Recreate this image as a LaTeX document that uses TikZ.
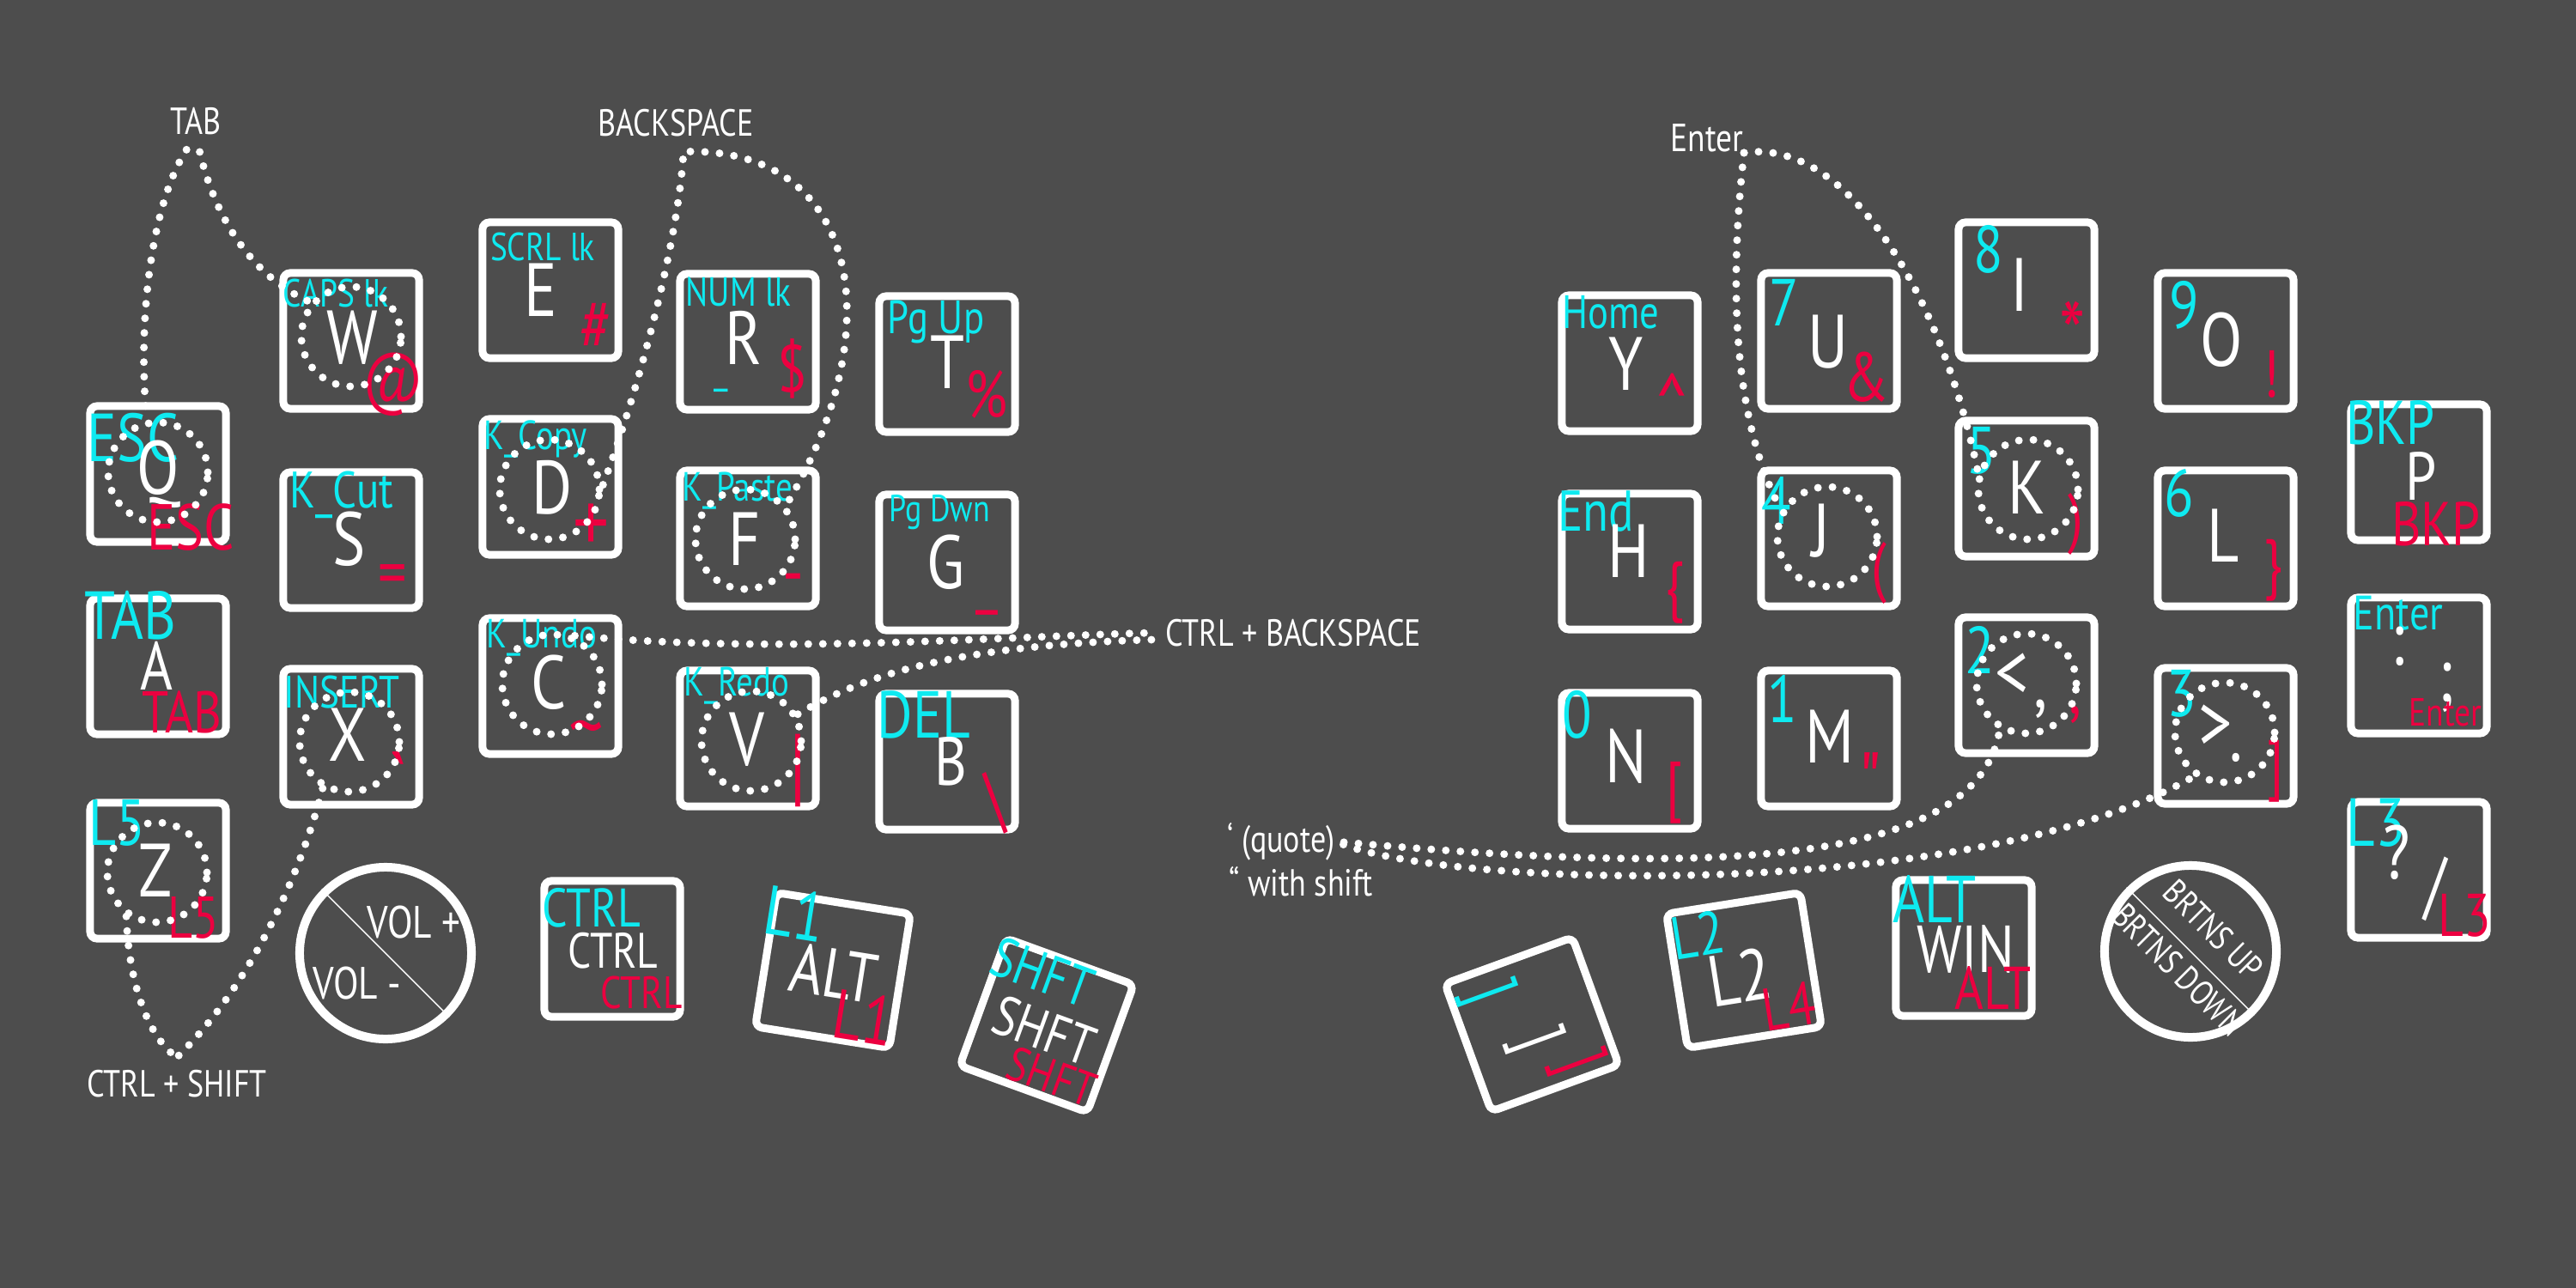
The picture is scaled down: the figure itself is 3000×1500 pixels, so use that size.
\documentclass[tikz,border=0pt]{standalone}
\usepackage{fontspec}
\setmainfont{PT Sans}[FakeStretch=0.82]
\usetikzlibrary{calc}
\definecolor{board}{RGB}{77,77,77}
\definecolor{laycyan}{RGB}{14,234,240}
\definecolor{shfred}{RGB}{236,0,64}

\begin{document}
\begin{tikzpicture}[x=0.01cm, y=-0.01cm,
keycap/.style={draw=white, line width=0.09cm, rounded corners=0.08cm, minimum size=1.58cm, inner sep=0pt},
knob/.style={circle, draw=white, line width=0.1cm, minimum size=2cm, inner sep=0pt},
dotline/.style={white, line width=0.09cm, line cap=round, dash pattern=on 0pt off 0.17cm},
ring/.style={circle, draw=white, dotline, minimum size=1.16cm, inner sep=0pt},
glyph/.style={text=white, inner sep=0pt, font=\fontsize{#1}{#1}\selectfont},
glyph/.default=25,
cyanlbl/.style={text=laycyan, inner sep=0pt, font=\fontsize{#1}{#1}\selectfont},
redlbl/.style={text=shfred, inner sep=0pt, font=\fontsize{#1}{#1}\selectfont},
note/.style={text=white, inner sep=0pt, font=\fontsize{#1}{#1}\selectfont}]

\fill[board] (0,0) rectangle (3000,1500);
\useasboundingbox (0,0) rectangle (3000,1500);

% left hand
\node [keycap] (q) at (184,552) {};
\node [cyanlbl=22.5] (q-top) at (155,510) {ESC};
\node [glyph] (q-char) at (184,552) {Q};
\node [redlbl=21.5] (q-bot) at (222,614) {ESC};

\node [keycap] (a) at (184,776) {};
\node [cyanlbl=22.5] (a-top) at (152,717) {TAB};
\node [glyph=22.5] (a-char) at (182,775) {A};
\node [redlbl=19.5] (a-bot) at (212,829) {TAB};

\node [keycap] (z) at (184,1014) {};
\node [cyanlbl=21.5] (z-top) at (136,958) {L5};
\node [glyph] (z-char) at (181,1014) {Z};
\node [redlbl=19.5] (z-bot) at (225,1069) {L5};

\node [keycap] (w) at (409,397) {};
\node [cyanlbl=13] (w-top) at (391,341) {CAPS lk};
\node [glyph] (w-char) at (410,393) {W};
\node [redlbl=23] (w-bot) at (458,448) {@};

\node [keycap] (s) at (409,629) {};
\node [cyanlbl=17] (s-top) at (398,576) {K\_Cut};
\node [glyph] (s-char) at (407,628) {S};
\node [redlbl=23] (s-bot) at (457,676) {=};

\node [keycap] (x) at (409,858) {};
\node [cyanlbl=15] (x-top) at (398,806) {INSERT};
\node [glyph] (x-char) at (405,856) {X};
\node [redlbl=28] (x-bot) at (466,911) {\textasciigrave};

\node [keycap] (e) at (641,338) {};
\node [cyanlbl=13] (e-top) at (632,287) {SCRL lk};
\node [glyph] (e-char) at (630,338) {E};
\node [redlbl=24] (e-bot) at (694,380) {\#};

\node [keycap] (d) at (641,567) {};
\node [cyanlbl=13.5] (d-top) at (624,511) {K\_Copy};
\node [glyph] (d-char) at (643,568) {D};
\node [redlbl=29] (d-bot) at (689,615) {+};

\node [keycap] (c) at (641,799) {};
\node [cyanlbl=13.5] (c-top) at (631,743) {K\_Undo};
\node [glyph] (c-char) at (639,795) {C};
\node [redlbl=28] (c-bot) at (683,860) {\textasciitilde};

\node [keycap] (r) at (871,398) {};
\node [cyanlbl=13.5] (r-top) at (860,340) {NUM lk};
\node [glyph] (r-char) at (866,393) {R};
\node [cyanlbl=14] (r-mid) at (840,452) {\_};
\node [redlbl=22] (r-bot) at (923,429) {\$};

\node [keycap] (f) at (871,627) {};
\node [cyanlbl=13.5] (f-top) at (859,572) {K\_Paste};
\node [glyph] (f-char) at (867,628) {F};
\node [redlbl=24] (f-bot) at (924,682) {-};

\node [keycap] (v) at (871,860) {};
\node [cyanlbl=13.5] (v-top) at (858,799) {K\_Redo};
\node [glyph] (v-char) at (870,861) {V};
\node [redlbl=29] (v-bot) at (929,897) {\textbar};

\node [keycap] (t) at (1103,424) {};
\node [cyanlbl=15.5] (t-top) at (1090,375) {Pg Up};
\node [glyph] (t-char) at (1103,422) {T};
\node [redlbl=22] (t-bot) at (1149,459) {\%};

\node [keycap] (g) at (1103,655) {};
\node [cyanlbl=12.5] (g-top) at (1094,597) {Pg Dwn};
\node [glyph] (g-char) at (1102,655) {G};
\node [redlbl=22] (g-bot) at (1149,708) {\_};

\node [keycap] (b) at (1103,887) {};
\node [cyanlbl=22] (b-top) at (1076,832) {DEL};
\node [glyph=22.5] (b-char) at (1107,887) {B};
\node [redlbl=24] (b-bot) at (1160,935) {\textbackslash};

% left thumb
\node [knob] (vol) at (449,1110) {};
\draw [white, line width=0.4pt] (vol.135) -- (vol.-45);
\node [note=15] (vol-up) at (482,1074) {VOL +};
\node [note=15] (vol-dn) at (416,1145) {VOL -};

\node [keycap] (ctrl) at (713,1105) {};
\node [cyanlbl=18] (ctrl-top) at (689,1057) {CTRL};
\node [glyph=16.5] (ctrl-char) at (714,1107) {CTRL};
\node [redlbl=15] (ctrl-bot) at (747,1156) {CTRL};

\node [keycap, rotate=-9] (alt) at (970,1130) {};
\node [cyanlbl=23, rotate=-9] (alt-top) at (926,1064) {L1};
\node [glyph=23, rotate=-9] (alt-char) at (971,1133) {ALT};
\node [redlbl=23, rotate=-9] (alt-bot) at (1006,1185) {L1};

\node [keycap, rotate=-20] (shft) at (1219,1194) {};
\node [cyanlbl=18.5, rotate=-20] (shft-top) at (1214,1132) {SHFT};
\node [glyph=18.5, rotate=-20] (shft-char) at (1216,1200) {SHFT};
\node [redlbl=16, rotate=-20] (shft-bot) at (1225,1254) {SHFT};

% right hand
\node [keycap] (y) at (1898,423) {};
\node [cyanlbl=15.5] (y-top) at (1876,364) {Home};
\node [glyph] (y-char) at (1894,424) {Y};
\node [redlbl=27] (y-bot) at (1948,469) {\textasciicircum};

\node [keycap] (h) at (1898,654) {};
\node [cyanlbl=19] (h-top) at (1859,596) {End};
\node [glyph] (h-char) at (1897,642) {H};
\node [redlbl=22] (h-bot) at (1950,690) {\{};

\node [keycap] (n) at (1898,886) {};
\node [cyanlbl=22] (n-top) at (1837,832) {0};
\node [glyph] (n-char) at (1894,881) {N};
\node [redlbl=22] (n-bot) at (1950,923) {[};

\node [keycap] (u) at (2130,397) {};
\node [cyanlbl=22] (u-top) at (2078,352) {7};
\node [glyph] (u-char) at (2129,398) {U};
\node [redlbl=23] (u-bot) at (2173,439) {\&};

\node [keycap] (j) at (2130,627) {};
\node [cyanlbl=22] (j-top) at (2069,583) {4};
\node [glyph] (j-char) at (2121,618) {J};
\node [redlbl=22] (j-bot) at (2188,667) {(};

\node [keycap] (m) at (2130,860) {};
\node [cyanlbl=22] (m-top) at (2076,814) {1};
\node [glyph] (m-char) at (2131,858) {M};
\node [redlbl=28] (m-bot) at (2181,911) {\textquotedbl};

\node [keycap] (i) at (2360,338) {};
\node [cyanlbl=22] (i-top) at (2316,290) {8};
\node [glyph] (i-char) at (2352,332) {I};
\node [redlbl=30] (i-bot) at (2414,389) {*};

\node [keycap] (k) at (2360,569) {};
\node [cyanlbl=22] (k-top) at (2308,525) {5};
\node [glyph] (k-char) at (2360,568) {K};
\node [redlbl=22] (k-bot) at (2417,610) {)};

\node [keycap] (lt) at (2360,798) {};
\node [cyanlbl=22] (lt-top) at (2306,757) {2};
\node [glyph=27] (lt-char) at (2343,788) {<};
\node [glyph] (lt-mid) at (2377,826) {,};
\node [redlbl=23] (lt-bot) at (2417,833) {,};

\node [keycap] (o) at (2592,397) {};
\node [cyanlbl=22] (o-top) at (2544,355) {9};
\node [glyph] (o-char) at (2587,396) {O};
\node [redlbl=22] (o-bot) at (2645,436) {!};

\node [keycap] (l) at (2592,627) {};
\node [cyanlbl=22] (l-top) at (2538,574) {6};
\node [glyph] (l-char) at (2589,624) {L};
\node [redlbl=22] (l-bot) at (2647,664) {\}};

\node [keycap] (gt) at (2592,857) {};
\node [cyanlbl=22] (gt-top) at (2541,808) {3};
\node [glyph=27] (gt-char) at (2580,848) {>};
\node [glyph] (gt-mid) at (2604,882) {.};
\node [redlbl=22] (gt-bot) at (2650,898) {]};

\node [keycap] (p) at (2817,550) {};
\node [cyanlbl=20.5] (p-top) at (2784,492) {BKP};
\node [glyph=22.5] (p-char) at (2820,554) {P};
\node [redlbl=20.5] (p-bot) at (2837,610) {BKP};

\node [keycap] (semi) at (2817,775) {};
\node [cyanlbl=16] (semi-top) at (2793,714) {Enter};
\node [glyph] (semi-char) at (2792,753) {:};
\node [glyph] (semi-mid) at (2849,801) {;};
\node [redlbl=13] (semi-bot) at (2848,830) {Enter};

\node [keycap] (slash) at (2817,1013) {};
\node [cyanlbl=22.5] (slash-top) at (2767,958) {L3};
\node [glyph] (slash-char) at (2791,993) {?};
\node [glyph] (slash-mid) at (2836,1035) {/};
\node [redlbl=20] (slash-bot) at (2870,1066) {L3};

% right thumb
\node [keycap, rotate=20] (brk) at (1784,1193) {};
\node [cyanlbl=23, rotate=-70] (brk-top) at (1732,1156) {]};
\node [glyph=23, rotate=-70] (brk-char) at (1788,1211) {]};
\node [redlbl=23, rotate=-70] (brk-bot) at (1837,1237) {]};

\node [keycap, rotate=9] (ltwo) at (2031,1130) {};
\node [cyanlbl=20, rotate=9] (ltwo-top) at (1977,1089) {L2};
\node [glyph=24, rotate=9] (ltwo-char) at (2026,1138) {L2};
\node [redlbl=20, rotate=9] (ltwo-bot) at (2083,1172) {L4};

\node [keycap] (win) at (2287,1104) {};
\node [cyanlbl=22] (win-top) at (2253,1047) {ALT};
\node [glyph=22] (win-char) at (2289,1105) {WIN};
\node [redlbl=20] (win-bot) at (2321,1150) {ALT};

\node [knob] (brt) at (2551,1108) {};
\draw [white, line width=0.4pt] (brt.135) -- (brt.-45);
\node [note=11.5, rotate=-45] (brt-up) at (2578,1083) {BRTNS UP};
\node [note=11.5, rotate=-45] (brt-dn) at (2537,1129) {BRTNS DOWN};

% combo rings
\node [ring] (q-ring) at (184,550) {};
\node [ring] (w-ring) at (409,392) {};
\node [ring] (z-ring) at (183,1016) {};
\node [ring] (x-ring) at (407,864) {};
\node [ring] (d-ring) at (640,570) {};
\node [ring] (c-ring) at (643,797) {};
\node [ring] (f-ring) at (868,628) {};
\node [ring] (v-ring) at (875,863) {};
\node [ring] (j-ring) at (2128,625) {};
\node [ring] (k-ring) at (2362,570) {};
\node [ring] (lt-ring) at (2360,796) {};
\node [ring] (gt-ring) at (2591,853) {};

% combo names
\node [note=12.5] (tab) at (228,141) {TAB};
\node [note=12.5] (bksp) at (787,143) {BACKSPACE};
\node [note=12.5] (ctrlshift) at (206,1262) {CTRL + SHIFT};
\node [note=12.5] (ctrlbksp) at (1506,737) {CTRL + BACKSPACE};
\node [note=13] (enter) at (1988,161) {Enter};
\node [note=12.5] (quote) at (1492,980) {‘ (quote)};
\node [note=12.5] (dquote) at (1515,1027) {“ with shift};

% combo lines
\draw [dotline, shorten <=0.2cm] (tab.south) .. controls (175,240) and (160,380) .. (q-ring.102);
\draw [dotline, shorten <=0.2cm] (tab.south) .. controls (250,250) and (290,320) .. (w-ring.140);
\draw [dotline] (d-ring.5) .. controls (745,450) and (790,280) .. ($(bksp.south)+(9,17)$)
  .. controls (1000,170) and (1040,380) .. (f-ring.40);
\draw [dotline] (c-ring.65) .. controls (900,762) and (1150,742) .. ($(ctrlbksp.west)+(-15,0)$);
\draw [dotline] (v-ring.30) .. controls (1000,790) and (1100,752) .. ($(ctrlbksp.west)+(-15,8)$);
\draw [dotline] (z-ring.235) .. controls (150,1150) and (175,1210) .. ($(ctrlshift.north)+(0,-14)$);
\draw [dotline] (x-ring.240) .. controls (355,1000) and (300,1140) .. ($(ctrlshift.north)+(0,-14)$);
\draw [dotline] (enter.south east) .. controls (2015,320) and (2015,480) .. (j-ring.150);
\draw [dotline] (enter.south east) .. controls (2150,160) and (2260,340) .. (k-ring.160);
\draw [dotline, shorten <=0.1cm] (quote.east) .. controls (1900,1010) and (2300,1030) .. (lt-ring.240);
\draw [dotline, shorten <=0.1cm] (quote.east) .. controls (1700,1035) and (2300,1050) .. (gt-ring.235);

\end{tikzpicture}
\end{document}
